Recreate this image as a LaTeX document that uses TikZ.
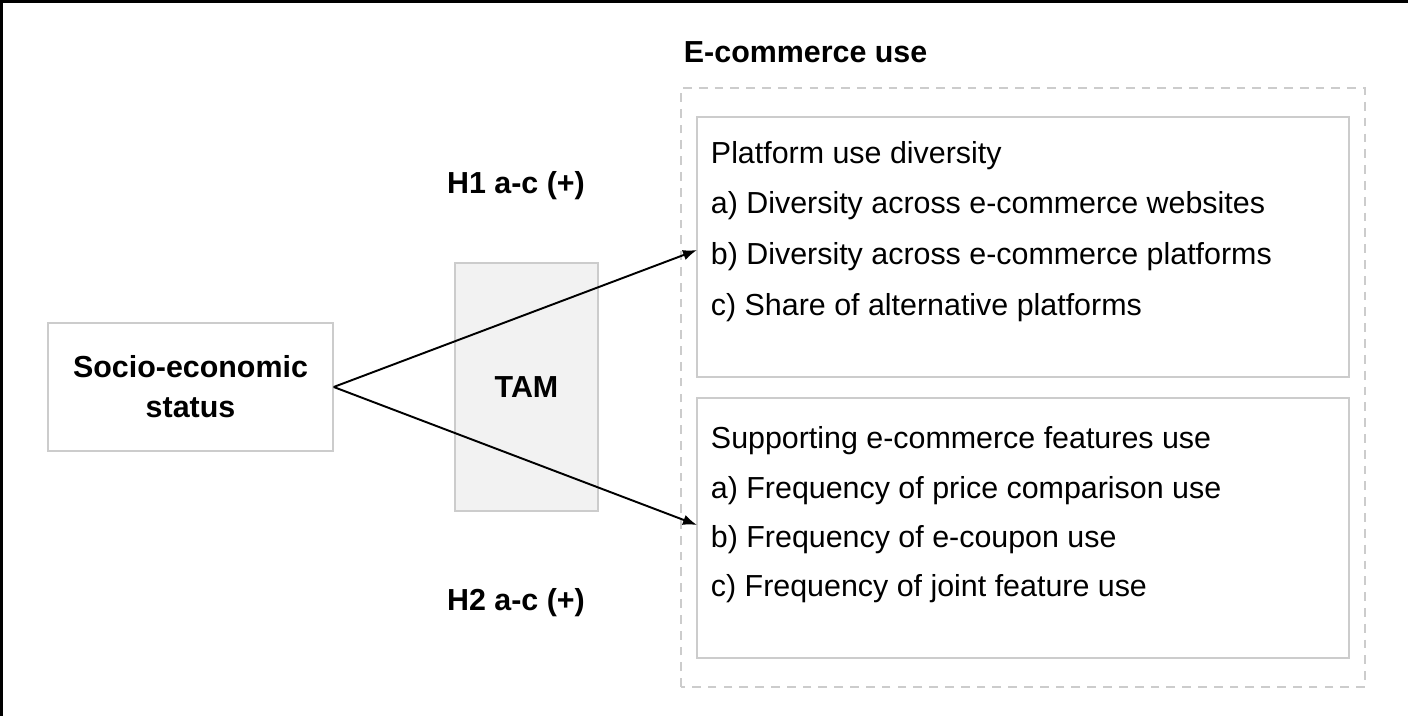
\documentclass[tikz,border=0pt]{standalone}
\usepackage{fontspec}
\setmainfont{Liberation Sans}
\usetikzlibrary{arrows.meta}
\definecolor{boxgray}{RGB}{204,204,204}
\definecolor{tamgray}{RGB}{242,242,242}
\begin{document}
\begin{tikzpicture}[>={Latex[length=8pt,width=6pt]},line width=1.1pt,
  box/.style={draw=boxgray, line width=0.8pt, inner sep=0pt},
  txt/.style={anchor=west, inner sep=0pt, font=\fontsize{17.3}{21}\selectfont},
  btxt/.style={inner sep=0pt, font=\fontsize{17.3}{22.7}\selectfont\bfseries, align=center}]
  \useasboundingbox (0,0) rectangle (28.16,14.32);
  % Frame
  \draw[line width=1.4pt] (0.03,0) -- (0.03,14.29) -- (28.16,14.29);

  % Left nodes
  \node[box, minimum width=5.7cm, minimum height=2.56cm] (Ses) at (3.81,6.58) {};
  \node[btxt] at (Ses.center) {Socio-economic\\status};
  \node[box, fill=tamgray, minimum width=2.86cm, minimum height=4.96cm] (Tam) at (10.53,6.58) {};
  \node[btxt] at (Tam.center) {TAM};

  % Outcome boxes
  \draw[boxgray, line width=0.8pt, dashed, dash pattern=on 5pt off 4pt] (13.62,0.58) rectangle (27.3,12.56);
  \node[btxt, anchor=west] (Ecom) at (13.66,13.28) {E-commerce use};
  \draw[box] (13.94,6.78) rectangle (26.98,11.98);
  \draw[box] (13.94,1.16) rectangle (26.98,6.36);

  % Box texts
  \node[txt] (Plat) at (14.2,11.2) {Platform use diversity};
  \node[txt] (PlatA) at (14.2,10.2) {a) Diversity across e-commerce websites};
  \node[txt] (PlatB) at (14.2,9.18) {b) Diversity across e-commerce platforms};
  \node[txt] (PlatC) at (14.2,8.16) {c) Share of alternative platforms};
  \node[txt] (Feat) at (14.2,5.5) {Supporting e-commerce features use};
  \node[txt] (FeatA) at (14.2,4.5) {a) Frequency of price comparison use};
  \node[txt] (FeatB) at (14.2,3.52) {b) Frequency of e-coupon use};
  \node[txt] (FeatC) at (14.2,2.54) {c) Frequency of joint feature use};

  % Hypotheses
  \coordinate (TipA) at (13.94,9.32);
  \coordinate (TipB) at (13.94,3.82);
  \draw[->] (Ses.east) -- (TipA);
  \draw[->] (Ses.east) -- (TipB);
  \node[btxt] (HypA) at (10.32,10.6) {H1 a-c (+)};
  \node[btxt] (HypB) at (10.32,2.26) {H2 a-c (+)};
\end{tikzpicture}
\end{document}
